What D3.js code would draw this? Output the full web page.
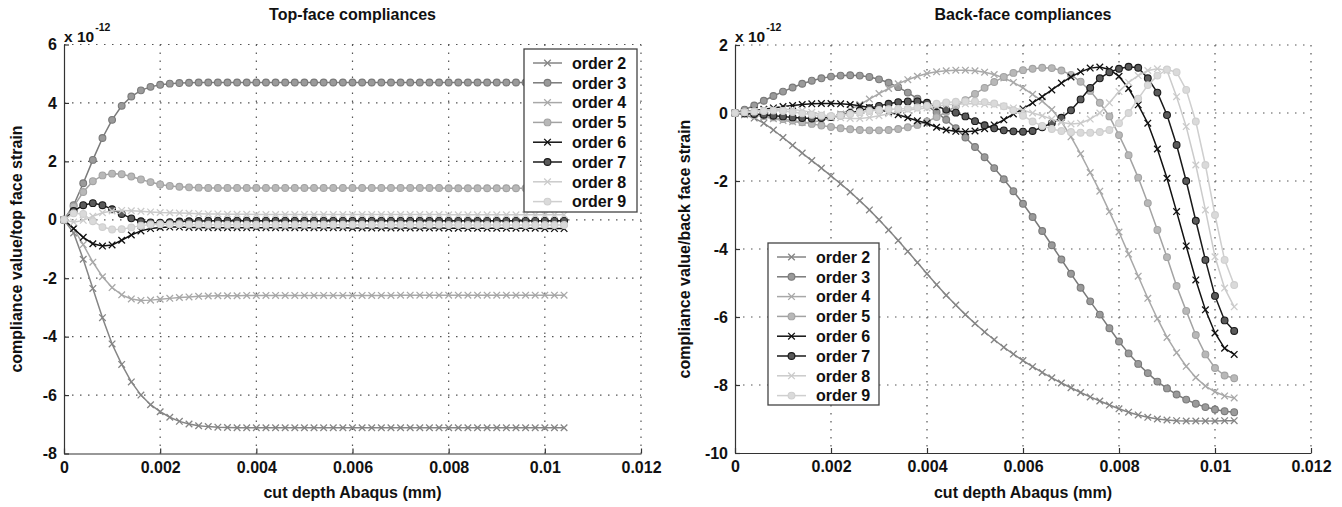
<!DOCTYPE html>
<html>
<head>
<meta charset="utf-8">
<script src="https://cdn.jsdelivr.net/npm/d3@7"></script>
<style>
  body { margin: 0; background: #fff; }
  text { font-family: "Liberation Sans", Arial, sans-serif; font-weight: bold; }
</style>
</head>
<body>
<script>
/* Data: cut depth (mm) and compliances (x 1e-12) */
const depth = [
  0, 0.0002, 0.0004, 0.0006, 0.0008, 0.001, 0.0012, 0.0014, 0.0016, 0.0018,
  0.002, 0.0022, 0.0024, 0.0026, 0.0028, 0.003, 0.0032, 0.0034, 0.0036, 0.0038,
  0.004, 0.0042, 0.0044, 0.0046, 0.0048, 0.005, 0.0052, 0.0054, 0.0056, 0.0058,
  0.006, 0.0062, 0.0064, 0.0066, 0.0068, 0.007, 0.0072, 0.0074, 0.0076, 0.0078,
  0.008, 0.0082, 0.0084, 0.0086, 0.0088, 0.009, 0.0092, 0.0094, 0.0096, 0.0098,
  0.01, 0.0102, 0.0104
];

const orderNames = ['order 2', 'order 3', 'order 4', 'order 5', 'order 6', 'order 7', 'order 8', 'order 9'];

/* Top-face */
const topOrder2 = [
  0, -0.45, -1.35, -2.35, -3.35, -4.25, -4.95, -5.55, -6.0, -6.33,
  -6.57, -6.76, -6.9, -6.99, -7.05, -7.08, -7.1, -7.11, -7.12, -7.12,
  -7.12, -7.12, -7.12, -7.12, -7.12, -7.12, -7.12, -7.12, -7.12, -7.12,
  -7.12, -7.12, -7.12, -7.12, -7.12, -7.12, -7.12, -7.12, -7.12, -7.12,
  -7.12, -7.12, -7.12, -7.12, -7.12, -7.12, -7.12, -7.12, -7.12, -7.12,
  -7.12, -7.12, -7.12
];
const topOrder3 = [
  0, 0.5, 1.25, 2.05, 2.8, 3.42, 3.9, 4.22, 4.43, 4.55,
  4.62, 4.66, 4.68, 4.69, 4.7, 4.7, 4.7, 4.7, 4.7, 4.7,
  4.7, 4.7, 4.7, 4.7, 4.7, 4.7, 4.7, 4.7, 4.7, 4.7,
  4.7, 4.7, 4.7, 4.7, 4.7, 4.7, 4.7, 4.7, 4.7, 4.7,
  4.7, 4.7, 4.7, 4.7, 4.7, 4.7, 4.7, 4.7, 4.7, 4.7,
  4.7, 4.7, 4.7
];
const topOrder4 = [
  0, -0.3, -0.85, -1.45, -1.95, -2.32, -2.57, -2.71, -2.76, -2.75,
  -2.72, -2.69, -2.66, -2.64, -2.62, -2.61, -2.6, -2.6, -2.6, -2.59,
  -2.59, -2.59, -2.59, -2.59, -2.59, -2.59, -2.59, -2.59, -2.59, -2.59,
  -2.59, -2.59, -2.59, -2.59, -2.59, -2.58, -2.58, -2.58, -2.58, -2.58,
  -2.58, -2.58, -2.58, -2.58, -2.58, -2.58, -2.58, -2.58, -2.58, -2.58,
  -2.58, -2.58, -2.58
];
const topOrder5 = [
  0, 0.45, 0.95, 1.32, 1.52, 1.58, 1.56, 1.48, 1.38, 1.29,
  1.21, 1.16, 1.13, 1.11, 1.1, 1.09, 1.09, 1.09, 1.09, 1.09,
  1.09, 1.09, 1.09, 1.09, 1.09, 1.09, 1.09, 1.09, 1.09, 1.09,
  1.09, 1.09, 1.09, 1.09, 1.09, 1.09, 1.09, 1.09, 1.09, 1.09,
  1.08, 1.08, 1.08, 1.08, 1.08, 1.08, 1.08, 1.08, 1.08, 1.08,
  1.08, 1.08, 1.08
];
const topOrder6 = [
  0, -0.3, -0.6, -0.82, -0.9, -0.86, -0.7, -0.52, -0.38, -0.3,
  -0.26, -0.25, -0.25, -0.26, -0.26, -0.27, -0.27, -0.27, -0.27, -0.27,
  -0.27, -0.27, -0.27, -0.27, -0.27, -0.27, -0.27, -0.27, -0.27, -0.27,
  -0.28, -0.28, -0.28, -0.28, -0.28, -0.28, -0.28, -0.28, -0.28, -0.28,
  -0.29, -0.29, -0.29, -0.29, -0.29, -0.29, -0.29, -0.29, -0.29, -0.29,
  -0.3, -0.3, -0.3
];
const topOrder7 = [
  0, 0.3, 0.5, 0.57, 0.5, 0.36, 0.2, 0.05, -0.05, -0.09,
  -0.1, -0.08, -0.06, -0.05, -0.04, -0.03, -0.03, -0.03, -0.03, -0.03,
  -0.03, -0.03, -0.03, -0.03, -0.03, -0.03, -0.03, -0.03, -0.03, -0.03,
  -0.03, -0.03, -0.03, -0.03, -0.03, -0.03, -0.03, -0.03, -0.03, -0.03,
  -0.03, -0.03, -0.03, -0.03, -0.03, -0.03, -0.03, -0.03, -0.03, -0.03,
  -0.03, -0.03, -0.03
];
const topOrder8 = [
  0, -0.08, -0.02, 0.12, 0.24, 0.3, 0.32, 0.31, 0.29, 0.27,
  0.25, 0.24, 0.23, 0.22, 0.21, 0.2, 0.2, 0.19, 0.19, 0.19,
  0.18, 0.18, 0.18, 0.18, 0.18, 0.18, 0.18, 0.18, 0.18, 0.18,
  0.18, 0.18, 0.18, 0.18, 0.18, 0.18, 0.18, 0.18, 0.18, 0.18,
  0.17, 0.17, 0.17, 0.17, 0.17, 0.17, 0.17, 0.17, 0.17, 0.17,
  0.17, 0.17, 0.17
];
const topOrder9 = [
  0, 0.22, 0.2, -0.05, -0.25, -0.33, -0.32, -0.26, -0.2, -0.16,
  -0.15, -0.15, -0.15, -0.16, -0.16, -0.17, -0.17, -0.17, -0.17, -0.17,
  -0.17, -0.17, -0.17, -0.17, -0.17, -0.17, -0.17, -0.17, -0.17, -0.17,
  -0.17, -0.17, -0.17, -0.17, -0.17, -0.17, -0.17, -0.17, -0.17, -0.17,
  -0.18, -0.18, -0.18, -0.18, -0.18, -0.18, -0.18, -0.18, -0.18, -0.18,
  -0.18, -0.18, -0.18
];

/* Back-face */
const backOrder2 = [
  0, -0.05, -0.15, -0.3, -0.5, -0.72, -0.95, -1.18, -1.4, -1.62,
  -1.85, -2.08, -2.32, -2.58, -2.85, -3.14, -3.44, -3.75, -4.07, -4.4,
  -4.73, -5.05, -5.36, -5.65, -5.93, -6.19, -6.44, -6.67, -6.89, -7.09,
  -7.28, -7.46, -7.63, -7.79, -7.94, -8.08, -8.22, -8.35, -8.47, -8.59,
  -8.7, -8.8, -8.88, -8.95, -9.0, -9.03, -9.05, -9.06, -9.06, -9.06,
  -9.06, -9.05, -9.05
];
const backOrder3 = [
  0, 0.1, 0.22, 0.36, 0.5, 0.63, 0.75, 0.86, 0.95, 1.02,
  1.07, 1.1, 1.11, 1.1, 1.06, 0.99, 0.89, 0.76, 0.6, 0.42,
  0.22, 0.02, -0.2, -0.45, -0.72, -1.0, -1.3, -1.62, -1.95, -2.3,
  -2.67, -3.06, -3.47, -3.89, -4.31, -4.73, -5.14, -5.54, -5.93, -6.33,
  -6.72, -7.07, -7.38, -7.65, -7.9, -8.1, -8.28, -8.43, -8.55, -8.65,
  -8.72, -8.77, -8.8
];
const backOrder4 = [
  0, -0.02, -0.06, -0.11, -0.17, -0.22, -0.26, -0.28, -0.27, -0.22,
  -0.14, -0.03, 0.1, 0.25, 0.41, 0.57, 0.72, 0.86, 0.98, 1.08,
  1.16, 1.21, 1.24, 1.26, 1.26, 1.24, 1.2, 1.13, 1.03, 0.9,
  0.74, 0.55, 0.35, 0.1, -0.25, -0.7, -1.2, -1.75, -2.3, -2.9,
  -3.5, -4.15, -4.8, -5.45, -6.05, -6.6, -7.05, -7.45, -7.78, -8.03,
  -8.2, -8.32, -8.38
];
const backOrder5 = [
  0, -0.02, -0.05, -0.09, -0.13, -0.18, -0.22, -0.27, -0.32, -0.37,
  -0.41, -0.45, -0.48, -0.5, -0.51, -0.51, -0.5, -0.47, -0.42, -0.35,
  -0.25, -0.12, 0.03, 0.2, 0.38, 0.56, 0.74, 0.91, 1.06, 1.18,
  1.26, 1.3, 1.33, 1.32, 1.25, 1.12, 0.92, 0.65, 0.3, -0.1,
  -0.65, -1.24, -1.9, -2.65, -3.44, -4.24, -5.09, -5.82, -6.53, -7.1,
  -7.5, -7.72, -7.8
];
const backOrder6 = [
  0, 0.03, 0.07, 0.11, 0.15, 0.19, 0.22, 0.25, 0.27, 0.28,
  0.28, 0.27, 0.25, 0.21, 0.16, 0.1, 0.03, -0.05, -0.14, -0.23,
  -0.3, -0.42, -0.5, -0.54, -0.55, -0.53, -0.46, -0.35, -0.2, -0.03,
  0.12, 0.3, 0.48, 0.68, 0.88, 1.06, 1.21, 1.32, 1.35, 1.28,
  1.08, 0.72, 0.24, -0.3, -1.06, -1.92, -2.9, -3.91, -4.91, -5.79,
  -6.47, -6.92, -7.1
];
const backOrder7 = [
  0, -0.01, -0.03, -0.05, -0.08, -0.1, -0.13, -0.15, -0.16, -0.15,
  -0.12, -0.07, 0.0, 0.07, 0.14, 0.21, 0.27, 0.32, 0.34, 0.34,
  0.3, 0.2, 0.1, 0.01, -0.1, -0.24, -0.36, -0.45, -0.51, -0.54,
  -0.55, -0.53, -0.42, -0.3, -0.14, 0.08, 0.4, 0.74, 1.02, 1.2,
  1.3, 1.36, 1.33, 1.02, 0.6, -0.06, -0.94, -2.0, -3.17, -4.32,
  -5.38, -6.1, -6.41
];
const backOrder8 = [
  0, 0.02, 0.05, 0.08, 0.1, 0.11, 0.1, 0.07, 0.02, -0.04,
  -0.1, -0.14, -0.16, -0.16, -0.13, -0.08, -0.02, 0.04, 0.09, 0.12,
  0.15, 0.2, 0.24, 0.26, 0.27, 0.27, 0.26, 0.24, 0.2, 0.15,
  0.08, 0.0, -0.08, -0.18, -0.27, -0.32, -0.3, -0.18, 0.0, 0.3,
  0.63, 0.9, 1.1, 1.25, 1.3, 1.25, 0.48, -0.4, -1.53, -2.85,
  -4.23, -5.15, -5.7
];
const backOrder9 = [
  0, 0.02, 0.04, 0.06, 0.07, 0.06, 0.03, -0.01, -0.05, -0.08,
  -0.09, -0.07, -0.03, 0.02, 0.06, 0.09, 0.11, 0.12, 0.13, 0.16,
  0.21, 0.27, 0.31, 0.33, 0.34, 0.34, 0.32, 0.28, 0.2, 0.08,
  -0.08, -0.25, -0.38, -0.47, -0.53, -0.56, -0.58, -0.58, -0.56, -0.5,
  -0.3, 0.0, 0.42, 0.82, 1.1, 1.28, 1.2, 0.68, -0.25, -1.53,
  -3.0, -4.32, -5.06
];

/* Ticks */
const xTicks = [0, 0.002, 0.004, 0.006, 0.008, 0.01, 0.012];
const xTickLabels = ['0', '0.002', '0.004', '0.006', '0.008', '0.01', '0.012'];
const topYTicks = [-8, -6, -4, -2, 0, 2, 4, 6];
const topYTickLabels = ['-8', '-6', '-4', '-2', '0', '2', '4', '6'];
const backYTicks = [-10, -8, -6, -4, -2, 0, 2];
const backYTickLabels = ['-10', '-8', '-6', '-4', '-2', '0', '2'];

/* Line styles, one per order */
const styles = [
  { stroke: '#858585', fill: 'none',    marker: 'x' },
  { stroke: '#7a7a7a', fill: '#9a9a9a', marker: 'o' },
  { stroke: '#a8a8a8', fill: 'none',    marker: 'x' },
  { stroke: '#a3a3a3', fill: '#b8b8b8', marker: 'o' },
  { stroke: '#111111', fill: 'none',    marker: 'x' },
  { stroke: '#1a1a1a', fill: '#5a5a5a', marker: 'o' },
  { stroke: '#cbcbcb', fill: 'none',    marker: 'x' },
  { stroke: '#cfcfcf', fill: '#dadada', marker: 'o' }
];

const w = 1342;
const h = 507;

const svg = d3.select('body')
  .append('svg')
  .attr('width', w)
  .attr('height', h);

const crossPath = d3.symbol().type(d3.symbolTimes).size(30)();

let drawMarker = (g, st, cx, cy) => {
  if (st.marker === 'x') {
    g.append('path')
      .attr('d', crossPath)
      .attr('transform', 'translate(' + cx + ',' + cy + ')')
      .attr('fill', 'none')
      .attr('stroke', st.stroke)
      .attr('stroke-width', 1.3);
  } else {
    g.append('circle')
      .attr('cx', cx)
      .attr('cy', cy)
      .attr('r', 3.4)
      .attr('fill', st.fill)
      .attr('stroke', st.stroke)
      .attr('stroke-width', 1.1);
  }
};

let drawPanel = p => {
  const g = svg.append('g');

  const xScale = d3.scaleLinear().domain([0, 0.012]).range([p.left, p.right]);
  const yScale = d3.scaleLinear().domain([p.yTicks[0], p.yTicks[p.yTicks.length - 1]]).range([p.bottom, p.top]);

  /* Grid */
  g.selectAll('.vgrid')
    .data(xTicks.slice(1))
    .enter()
    .append('line')
    .attr('x1', d => xScale(d))
    .attr('x2', d => xScale(d))
    .attr('y1', p.top)
    .attr('y2', p.bottom)
    .attr('stroke', '#555')
    .attr('stroke-width', 1.2)
    .attr('stroke-dasharray', '1.5,6.5');

  g.selectAll('.hgrid')
    .data(p.yTicks.slice(1))
    .enter()
    .append('line')
    .attr('x1', p.left)
    .attr('x2', p.right)
    .attr('y1', d => yScale(d))
    .attr('y2', d => yScale(d))
    .attr('stroke', '#555')
    .attr('stroke-width', 1.2)
    .attr('stroke-dasharray', '1.5,6.5');

  /* Axes */
  const xAxis = d3.axisBottom(xScale)
    .tickValues(xTicks)
    .tickFormat((d, i) => xTickLabels[i])
    .tickSizeInner(-5)
    .tickSizeOuter(0)
    .tickPadding(8);

  const yAxis = d3.axisLeft(yScale)
    .tickValues(p.yTicks)
    .tickFormat((d, i) => p.yTickLabels[i])
    .tickSizeInner(-5)
    .tickSizeOuter(0)
    .tickPadding(7);

  [g.append('g').attr('transform', 'translate(0,' + p.bottom + ')').call(xAxis),
   g.append('g').attr('transform', 'translate(' + p.left + ',0)').call(yAxis)]
    .forEach(a => {
      a.attr('font-size', 16).attr('font-family', null);
      a.select('.domain').attr('stroke', '#333').attr('stroke-width', 1.2);
      a.selectAll('.tick line').attr('stroke', '#333').attr('stroke-width', 1.2);
      a.selectAll('.tick text').attr('fill', '#111');
    });

  /* Series */
  const line = d3.line()
    .x((d, i) => xScale(depth[i]))
    .y(d => yScale(d));

  p.series.forEach((s, k) => {
    const st = styles[k];
    const sg = g.append('g');
    sg.append('path')
      .attr('d', line(s))
      .attr('fill', 'none')
      .attr('stroke', st.stroke)
      .attr('stroke-width', 1.5);
    s.forEach((v, i) => drawMarker(sg, st, xScale(depth[i]), yScale(v)));
  });

  /* Title and labels */
  const cx = (p.left + p.right) / 2;
  g.append('text')
    .attr('x', cx)
    .attr('y', 20)
    .attr('text-anchor', 'middle')
    .attr('font-size', 16)
    .attr('fill', '#111')
    .text(p.title);

  g.append('text')
    .attr('x', cx)
    .attr('y', 498)
    .attr('text-anchor', 'middle')
    .attr('font-size', 16)
    .attr('fill', '#111')
    .text('cut depth Abaqus (mm)');

  g.append('text')
    .attr('transform', 'translate(' + p.yLabelX + ',' + ((p.top + p.bottom) / 2) + ') rotate(-90)')
    .attr('text-anchor', 'middle')
    .attr('font-size', 16)
    .attr('fill', '#111')
    .text(p.yLabel);

  const exp = g.append('text')
    .attr('x', p.left)
    .attr('y', 42)
    .attr('font-size', 15.5)
    .attr('fill', '#111')
    .text('x 10');
  g.append('text')
    .attr('x', p.left + exp.node().getComputedTextLength() + 1)
    .attr('y', 31)
    .attr('font-size', 10.5)
    .attr('fill', '#111')
    .text('-12');

  /* Legend */
  const lg = g.append('g');
  lg.append('rect')
    .attr('x', p.legend.x)
    .attr('y', p.legend.y)
    .attr('width', p.legend.w)
    .attr('height', p.legend.h)
    .attr('fill', '#fff')
    .attr('stroke', '#444')
    .attr('stroke-width', 1.3);

  orderNames.forEach((name, k) => {
    const st = styles[k];
    const ry = p.legend.y + 14 + k * 19.8;
    lg.append('line')
      .attr('x1', p.legend.x + 9)
      .attr('x2', p.legend.x + 38)
      .attr('y1', ry)
      .attr('y2', ry)
      .attr('stroke', st.stroke)
      .attr('stroke-width', 1.5);
    drawMarker(lg, st, p.legend.x + 23.5, ry);
    lg.append('text')
      .attr('x', p.legend.x + 48)
      .attr('y', ry + 5.8)
      .attr('font-size', 16)
      .attr('fill', '#111')
      .text(name);
  });
};

drawPanel({
  left: 64, right: 641, top: 44.5, bottom: 453.5,
  yTicks: topYTicks, yTickLabels: topYTickLabels,
  series: [topOrder2, topOrder3, topOrder4, topOrder5, topOrder6, topOrder7, topOrder8, topOrder9],
  title: 'Top-face compliances',
  yLabel: 'compliance value/top face strain',
  yLabelX: 22,
  legend: { x: 524, y: 49, w: 113, h: 163 }
});

drawPanel({
  left: 735, right: 1311, top: 45, bottom: 453,
  yTicks: backYTicks, yTickLabels: backYTickLabels,
  series: [backOrder2, backOrder3, backOrder4, backOrder5, backOrder6, backOrder7, backOrder8, backOrder9],
  title: 'Back-face compliances',
  yLabel: 'compliance value/back face strain',
  yLabelX: 690,
  legend: { x: 768, y: 243, w: 111, h: 162 }
});
</script>
</body>
</html>
